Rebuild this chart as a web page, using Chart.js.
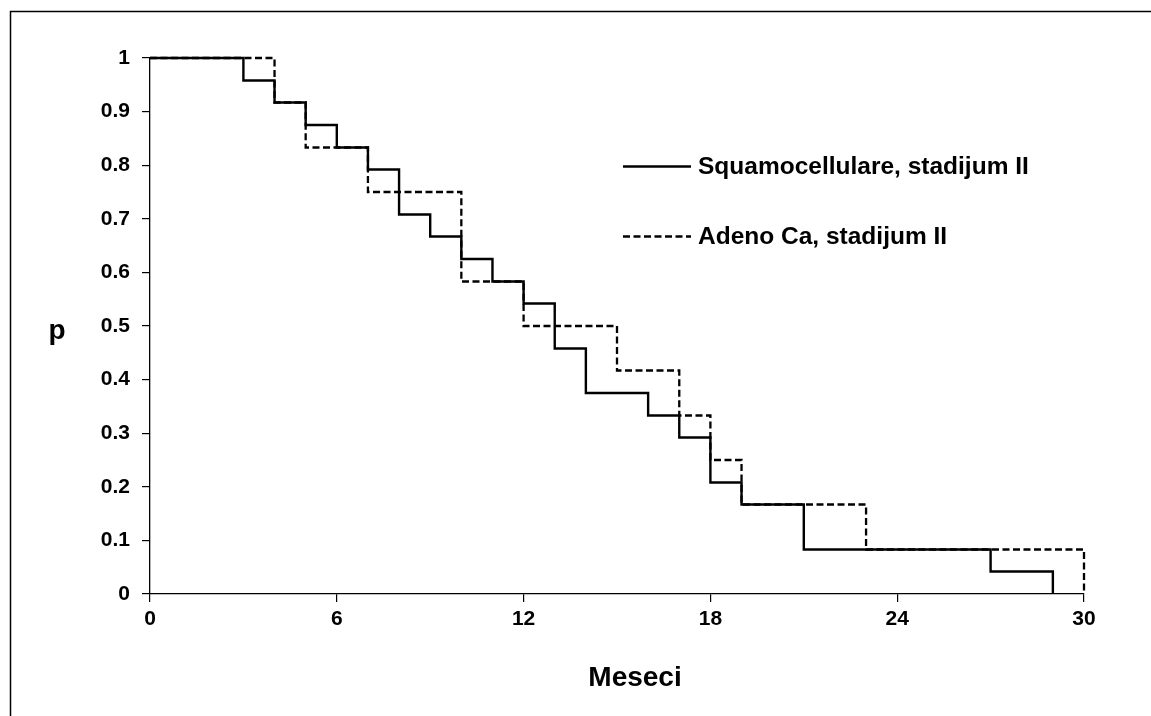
<!DOCTYPE html>
<html>
<head>
<meta charset="utf-8">
<script src="https://cdn.jsdelivr.net/npm/chart.js@4.4.1/dist/chart.umd.min.js"></script>
<style>
  html, body { margin: 0; padding: 0; background: #fff; }
  #wrap { width: 1151px; height: 716px; position: relative; }
</style>
</head>
<body>
<div id="wrap"><canvas id="c"></canvas></div>
<script>
// Kaplan-Meier step data (month at which the step occurs, survival after the step)
const squamoMonths = [0, 3, 4, 5, 6, 7, 8, 9, 10, 11, 12, 13, 14, 16, 17, 18, 19, 21, 27, 29];
const squamoP      = [1, 0.958, 0.917, 0.875, 0.833, 0.792, 0.708, 0.667, 0.625, 0.583, 0.542, 0.458, 0.375, 0.333, 0.292, 0.208, 0.167, 0.083, 0.042, 0];
const adenoMonths  = [0, 4, 5, 7, 10, 12, 15, 17, 18, 19, 23, 30];
const adenoP       = [1, 0.917, 0.833, 0.75, 0.583, 0.5, 0.417, 0.333, 0.25, 0.167, 0.083, 0];
const xTicks = [0, 6, 12, 18, 24, 30];
const yTicks = [0, 0.1, 0.2, 0.3, 0.4, 0.5, 0.6, 0.7, 0.8, 0.9, 1];
const yTickLabels = ['0', '0.1', '0.2', '0.3', '0.4', '0.5', '0.6', '0.7', '0.8', '0.9', '1'];
const seriesNames = ['Squamocellulare, stadijum II', 'Adeno Ca, stadijum II'];
const xTitle = 'Meseci';
const yTitle = 'p';

const FONT = '"Liberation Sans", Arial, sans-serif';

const toPts = (xs, ys) => xs.map((x, i) => ({ x: x, y: ys[i] }));

const extras = {
  id: 'extras',
  beforeDraw(chart) {
    const ctx = chart.ctx;
    ctx.save();
    ctx.fillStyle = '#fff';
    ctx.fillRect(0, 0, chart.width, chart.height);
    ctx.restore();
  },
  afterDraw(chart) {
    const ctx = chart.ctx;
    ctx.save();
    // outer frame (top and left visible)
    ctx.strokeStyle = '#000';
    ctx.lineWidth = 1.5;
    ctx.beginPath();
    ctx.moveTo(10.5, chart.height + 5);
    ctx.lineTo(10.5, 11.5);
    ctx.lineTo(chart.width + 5, 11.5);
    ctx.stroke();
    ctx.fillStyle = '#000';
    // y title (horizontal)
    ctx.font = 'bold 28px ' + FONT;
    ctx.textAlign = 'center';
    ctx.textBaseline = 'alphabetic';
    ctx.fillText(yTitle, 57, 339);
    // x title
    ctx.font = 'bold 28px ' + FONT;
    ctx.fillText(xTitle, 635, 686);
    // legend
    const items = [
      { y: 166.5, ds: chart.data.datasets[0] },
      { y: 236.5, ds: chart.data.datasets[1] }
    ];
    ctx.font = 'bold 24.5px ' + FONT;
    ctx.textAlign = 'left';
    ctx.textBaseline = 'middle';
    items.forEach(it => {
      ctx.strokeStyle = it.ds.borderColor;
      ctx.lineWidth = it.ds.borderWidth;
      ctx.setLineDash(it.ds.borderDash || []);
      ctx.beginPath();
      ctx.moveTo(623, it.y);
      ctx.lineTo(691, it.y);
      ctx.stroke();
      ctx.setLineDash([]);
      ctx.fillText(it.ds.label, 698, it.y + 1);
    });
    ctx.restore();
  }
};

new Chart(document.getElementById('c'), {
  type: 'line',
  data: {
    datasets: [
      {
        label: seriesNames[0],
        data: toPts(squamoMonths, squamoP),
        stepped: 'before',
        borderColor: '#000',
        borderWidth: 2.4,
        pointRadius: 0,
        fill: false,
        clip: false
      },
      {
        label: seriesNames[1],
        data: toPts(adenoMonths, adenoP),
        stepped: 'before',
        borderColor: '#000',
        borderWidth: 2.3,
        borderDash: [7, 3.5],
        pointRadius: 0,
        fill: false,
        clip: false
      }
    ]
  },
  options: {
    responsive: true,
    maintainAspectRatio: false,
    animation: false,
    layout: { padding: { top: 58, right: 67, bottom: 0, left: 0 } },
    plugins: { legend: { display: false }, tooltip: { enabled: false } },
    scales: {
      x: {
        type: 'linear',
        min: 0, max: 30,
        afterBuildTicks: s => { s.ticks = xTicks.map(v => ({ value: v })); },
        afterFit: s => { s.height = 122; },
        ticks: {
          color: '#000',
          font: { family: FONT, size: 21, weight: 'bold' },
          padding: 5,
          maxRotation: 0,
          autoSkip: false,
          callback: v => String(v)
        },
        grid: { drawOnChartArea: false, drawTicks: true, tickLength: 8, color: '#000', lineWidth: 1.2 },
        border: { display: true, color: '#000', width: 1.3 }
      },
      y: {
        type: 'linear',
        min: 0, max: 1,
        afterBuildTicks: s => { s.ticks = yTicks.map(v => ({ value: v })); },
        afterFit: s => { s.width = 150; },
        ticks: {
          color: '#000',
          font: { family: FONT, size: 21, weight: 'bold' },
          padding: 12,
          autoSkip: false,
          callback: (v, i) => yTickLabels[i]
        },
        grid: { drawOnChartArea: false, drawTicks: true, tickLength: 8, color: '#000', lineWidth: 1.2 },
        border: { display: true, color: '#000', width: 1.3 }
      }
    }
  },
  plugins: [extras]
});
</script>
</body>
</html>
